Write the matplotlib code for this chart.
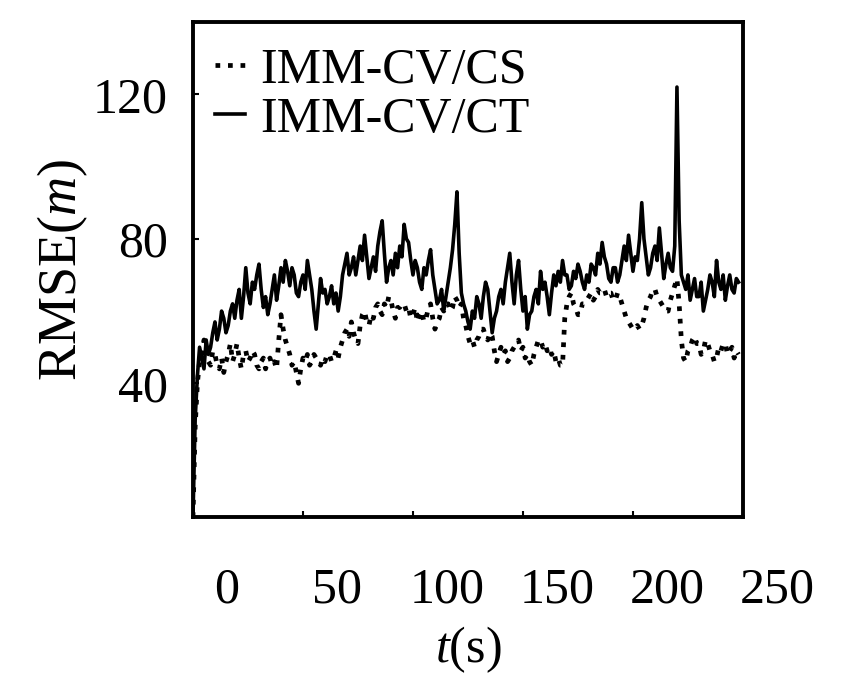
import matplotlib
matplotlib.use('Agg')
import matplotlib.pyplot as plt
import matplotlib.transforms as mtransforms
import numpy as np

plt.rcParams['font.family'] = ['Liberation Serif', 'DejaVu Serif']
plt.rcParams['mathtext.fontset'] = 'custom'
plt.rcParams['mathtext.rm'] = 'Liberation Serif'
plt.rcParams['mathtext.it'] = 'Liberation Serif:italic'

# time axis (s), one sample per second
t = np.arange(0, 249, 1)

rmse_cs = [3, 28, 40, 46, 47, 52, 50, 46, 45, 49,
           48, 45, 44, 47, 43, 46, 48, 51, 46, 48,
           51, 47, 44, 48, 49, 46, 47, 49, 48, 45,
           44, 46, 47, 44, 46, 47, 45, 46, 44, 52,
           59, 55, 52, 50, 48, 45, 46, 43, 40, 44,
           47, 46, 48, 45, 46, 48, 47, 46, 45, 47,
           46, 48, 48, 46, 47, 49, 47, 50, 52, 54,
           55, 53, 57, 54, 52, 51, 56, 59, 60, 57,
           56, 59, 58, 61, 62, 60, 59, 62, 61, 64,
           63, 60, 58, 61, 61, 62, 62, 60, 61, 58,
           59, 61, 57, 59, 60, 57, 58, 61, 62, 58,
           55, 57, 58, 61, 60, 62, 62, 60, 61, 64,
           63, 61, 62, 58, 56, 53, 51, 52, 50, 52,
           53, 55, 55, 53, 52, 54, 53, 49, 46, 48,
           50, 48, 49, 46, 47, 49, 50, 51, 52, 49,
           50, 47, 48, 46, 45, 48, 50, 52, 52, 50,
           51, 49, 50, 48, 49, 46, 47, 45, 45, 58,
           62, 64, 65, 62, 61, 59, 59, 62, 62, 63,
           64, 65, 63, 64, 66, 65, 65, 66, 64, 65,
           65, 63, 63, 65, 64, 62, 60, 58, 57, 56,
           55, 55, 56, 55, 56, 58, 61, 63, 64, 66,
           66, 64, 63, 62, 61, 60, 60, 63, 65, 67,
           69, 62, 52, 47, 46, 49, 50, 52, 53, 51,
           51, 48, 49, 52, 51, 49, 48, 46, 47, 50,
           49, 51, 51, 48, 49, 50, 47, 49, 48]

rmse_ct = [3, 30, 42, 50, 47, 44, 52, 48, 50, 54,
           57, 52, 55, 60, 58, 54, 56, 60, 62, 58,
           63, 66, 58, 64, 72, 65, 62, 68, 66, 70,
           73, 66, 61, 64, 59, 62, 66, 70, 63, 67,
           72, 68, 74, 71, 67, 72, 70, 65, 64, 68,
           70, 66, 74, 70, 66, 60, 55, 62, 69, 65,
           66, 62, 64, 67, 62, 65, 60, 64, 70, 73,
           76, 70, 72, 75, 70, 74, 78, 74, 81, 75,
           69, 72, 75, 71, 78, 82, 85, 76, 68, 72,
           74, 70, 76, 72, 78, 75, 84, 80, 79, 74,
           70, 74, 72, 68, 66, 72, 70, 74, 77, 70,
           66, 62, 63, 66, 60, 64, 68, 72, 77, 84,
           93, 76, 65, 62, 60, 57, 55, 60, 58, 64,
           62, 58, 64, 68, 66, 60, 54, 58, 60, 64,
           66, 62, 68, 72, 76, 68, 62, 70, 74, 66,
           60, 64, 55, 59, 60, 64, 66, 62, 71, 66,
           68, 64, 59, 65, 70, 67, 71, 68, 74, 70,
           70, 66, 67, 71, 69, 73, 71, 68, 66, 70,
           68, 73, 72, 70, 76, 73, 79, 75, 73, 69,
           68, 72, 72, 68, 70, 74, 78, 74, 81, 76,
           71, 75, 74, 80, 90, 80, 75, 70, 72, 76,
           78, 74, 83, 76, 69, 73, 76, 72, 71, 78,
           122, 85, 70, 68, 66, 70, 63, 66, 69, 64,
           64, 68, 60, 63, 66, 70, 68, 64, 74, 68,
           66, 70, 63, 67, 70, 66, 65, 69, 68]

xticks = [0, 50, 100, 150, 200, 250]
yticks = [40, 80, 120]

fig = plt.figure(figsize=(8.52, 6.88), dpi=100)
ax = fig.add_axes([0.2265, 0.2485, 0.6455, 0.7195])

ax.plot(t, rmse_cs, color='black', linestyle=':', linewidth=3.4, label='IMM-CV/CS')
ax.plot(t, rmse_ct, color='black', linestyle='-', linewidth=2.6, label='IMM-CV/CT')

ax.set_xlim(0, 250)
ax.set_ylim(3, 140)
ax.set_xticks(xticks)
ax.set_yticks(yticks)
ax.tick_params(direction='in', length=4, width=1.5, labelsize=36)
ax.tick_params(axis='x', pad=36)
ax.tick_params(axis='y', pad=18)

# the printed x labels sit a little right of their ticks
shift = mtransforms.ScaledTranslation(0.34, 0, fig.dpi_scale_trans)
for lab in ax.get_xticklabels():
    lab.set_transform(lab.get_transform() + shift)

for sp in ax.spines.values():
    sp.set_linewidth(2.8)

ax.set_xlabel('$t$(s)', fontsize=36, labelpad=8)
ax.set_ylabel('RMSE($m$)', fontsize=39, labelpad=2)

ax.legend(loc='upper left', bbox_to_anchor=(0.027, 0.964), frameon=False,
          fontsize=36, handlelength=0.6, handletextpad=0.3,
          borderaxespad=0.05, labelspacing=0.05, borderpad=0.1)

fig.savefig('out.png', dpi=100)
